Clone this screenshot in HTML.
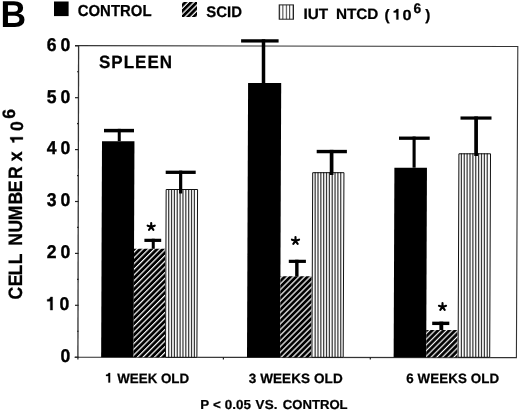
<!DOCTYPE html>
<html><head><meta charset="utf-8"><style>
html,body{margin:0;padding:0;background:#fff;}
svg{display:block;will-change:transform;}
text{font-family:"Liberation Sans",sans-serif;font-weight:bold;text-rendering:geometricPrecision;}
</style></head><body>
<svg width="520" height="412" viewBox="0 0 520 412">
<rect width="520" height="412" fill="#fff"/>
<defs><pattern id="hatch1" patternUnits="userSpaceOnUse" width="4.0305" height="4.0305" patternTransform="rotate(45)">
  <rect width="4.0305" height="4.0305" fill="#000"/>
  <rect x="2.441" y="0" width="1.2" height="4.0305" fill="#fff"/>
  <rect x="-1.590" y="0" width="1.2" height="4.0305" fill="#fff"/>
</pattern><pattern id="hatch2" patternUnits="userSpaceOnUse" width="4.0305" height="4.0305" patternTransform="rotate(45)">
  <rect width="4.0305" height="4.0305" fill="#000"/>
  <rect x="3.431" y="0" width="1.2" height="4.0305" fill="#fff"/>
  <rect x="-0.600" y="0" width="1.2" height="4.0305" fill="#fff"/>
</pattern><pattern id="hatch3" patternUnits="userSpaceOnUse" width="4.0305" height="4.0305" patternTransform="rotate(45)">
  <rect width="4.0305" height="4.0305" fill="#000"/>
  <rect x="0.602" y="0" width="1.2" height="4.0305" fill="#fff"/>
  <rect x="-3.428" y="0" width="1.2" height="4.0305" fill="#fff"/>
</pattern><pattern id="hatchL" patternUnits="userSpaceOnUse" width="4.0305" height="4.0305" patternTransform="rotate(45)">
  <rect width="4.0305" height="4.0305" fill="#000"/>
  <rect x="1.168" y="0" width="1.2" height="4.0305" fill="#fff"/>
  <rect x="-2.863" y="0" width="1.2" height="4.0305" fill="#fff"/>
</pattern>
<pattern id="vstrL" patternUnits="userSpaceOnUse" width="3.4" height="10" x="279">
  <rect width="3.4" height="10" fill="#fff"/>
  <rect x="0" y="0" width="1" height="10" fill="#333"/>
</pattern>
</defs>

<text transform="translate(0.60 26.70) scale(0.985 1.038)" font-size="36" font-family="Liberation Sans, sans-serif" font-weight="bold" >B</text>
<rect x="54" y="1.5" width="14.6" height="14.6" fill="#000"/>
<text transform="translate(77.70 16.35) scale(0.976 1.04)" font-size="15.3" font-family="Liberation Sans, sans-serif" font-weight="bold" stroke="#000" stroke-width="0.25" >CONTROL</text>
<rect x="182" y="2" width="15" height="15" fill="url(#hatchL)"/>
<text transform="translate(206.30 17.10) scale(0.975 1.0)" font-size="15.3" font-family="Liberation Sans, sans-serif" font-weight="bold" stroke="#000" stroke-width="0.25" >SCID</text>
<rect x="279.2" y="4.9" width="14.3" height="14.3" fill="url(#vstrL)" stroke="#222" stroke-width="1"/>
<text transform="translate(303.50 18.90) scale(1.0 0.98)" font-size="15.3" font-family="Liberation Sans, sans-serif" font-weight="bold" stroke="#000" stroke-width="0.25" word-spacing="3.5">IUT NTCD</text>
<text transform="translate(384.54 19.80) scale(1.0 0.99)" font-size="15.3" font-family="Liberation Sans, sans-serif" font-weight="bold" stroke="#000" stroke-width="0.25" >(</text>
<path transform="translate(392.55 19.50) scale(0.01530 -0.01469)" d="M380 0L380 710L262 710C245 640 190 585 75 580L75 478L252 478L252 0Z" fill="#000" stroke="#000" stroke-width="0.3" vector-effect="non-scaling-stroke"/>
<text transform="translate(402.55 19.50) scale(1.07 0.96)" font-size="15.3" font-family="Liberation Sans, sans-serif" font-weight="bold" stroke="#000" stroke-width="0.25" >0</text>
<text transform="translate(413.59 12.80) scale(1.0 1.0)" font-size="13.8" font-family="Liberation Sans, sans-serif" font-weight="bold" stroke="#000" stroke-width="0.25" >6</text>
<text transform="translate(425.18 19.80) scale(1.0 0.99)" font-size="15.3" font-family="Liberation Sans, sans-serif" font-weight="bold" stroke="#000" stroke-width="0.25" >)</text>
<path d="M75 45.6 L517.8 46.5 L516.4 357.6 L74.5 357.3" fill="none" stroke="#333" stroke-width="1.1"/>
<line x1="78.6" y1="45.6" x2="77.9" y2="359.4" stroke="#333" stroke-width="1.3"/>
<line x1="75" y1="357.20" x2="78.6" y2="357.20" stroke="#222" stroke-width="1.2"/>
<line x1="75" y1="305.30" x2="78.6" y2="305.30" stroke="#222" stroke-width="1.2"/>
<line x1="75" y1="253.40" x2="78.6" y2="253.40" stroke="#222" stroke-width="1.2"/>
<line x1="75" y1="201.50" x2="78.6" y2="201.50" stroke="#222" stroke-width="1.2"/>
<line x1="75" y1="149.60" x2="78.6" y2="149.60" stroke="#222" stroke-width="1.2"/>
<line x1="75" y1="97.70" x2="78.6" y2="97.70" stroke="#222" stroke-width="1.2"/>
<line x1="75" y1="45.80" x2="78.6" y2="45.80" stroke="#222" stroke-width="1.2"/>
<line x1="77" y1="331.25" x2="78.6" y2="331.25" stroke="#222" stroke-width="1.2"/>
<line x1="77" y1="279.35" x2="78.6" y2="279.35" stroke="#222" stroke-width="1.2"/>
<line x1="77" y1="227.45" x2="78.6" y2="227.45" stroke="#222" stroke-width="1.2"/>
<line x1="77" y1="175.55" x2="78.6" y2="175.55" stroke="#222" stroke-width="1.2"/>
<line x1="77" y1="123.65" x2="78.6" y2="123.65" stroke="#222" stroke-width="1.2"/>
<line x1="77" y1="71.75" x2="78.6" y2="71.75" stroke="#222" stroke-width="1.2"/>
<line x1="223.4" y1="357.3" x2="223.4" y2="359.5" stroke="#222" stroke-width="1.2"/>
<line x1="370.3" y1="357.3" x2="370.3" y2="359.5" stroke="#222" stroke-width="1.2"/>
<text transform="translate(60.60 362.00) scale(1.0 1.05)" font-size="17.6" font-family="Liberation Sans, sans-serif" font-weight="bold" stroke="#000" stroke-width="0.35">0</text>
<path transform="translate(45.88 310.10) scale(0.01760 -0.01848)" d="M380 0L380 710L262 710C245 640 190 585 75 580L75 478L252 478L252 0Z" fill="#000" stroke="#000" stroke-width="0.35" vector-effect="non-scaling-stroke"/>
<text transform="translate(59.50 310.10) scale(1.0 1.05)" font-size="17.6" font-family="Liberation Sans, sans-serif" font-weight="bold" stroke="#000" stroke-width="0.35">0</text>
<text transform="translate(46.65 258.20) scale(1.0 1.05)" font-size="17.6" font-family="Liberation Sans, sans-serif" font-weight="bold" stroke="#000" stroke-width="0.35">2</text>
<text transform="translate(60.60 258.20) scale(1.0 1.05)" font-size="17.6" font-family="Liberation Sans, sans-serif" font-weight="bold" stroke="#000" stroke-width="0.35">0</text>
<text transform="translate(46.65 206.30) scale(1.0 1.05)" font-size="17.6" font-family="Liberation Sans, sans-serif" font-weight="bold" stroke="#000" stroke-width="0.35">3</text>
<text transform="translate(60.60 206.30) scale(1.0 1.05)" font-size="17.6" font-family="Liberation Sans, sans-serif" font-weight="bold" stroke="#000" stroke-width="0.35">0</text>
<text transform="translate(46.65 154.40) scale(1.0 1.05)" font-size="17.6" font-family="Liberation Sans, sans-serif" font-weight="bold" stroke="#000" stroke-width="0.35">4</text>
<text transform="translate(60.60 154.40) scale(1.0 1.05)" font-size="17.6" font-family="Liberation Sans, sans-serif" font-weight="bold" stroke="#000" stroke-width="0.35">0</text>
<text transform="translate(46.65 102.50) scale(1.0 1.05)" font-size="17.6" font-family="Liberation Sans, sans-serif" font-weight="bold" stroke="#000" stroke-width="0.35">5</text>
<text transform="translate(60.60 102.50) scale(1.0 1.05)" font-size="17.6" font-family="Liberation Sans, sans-serif" font-weight="bold" stroke="#000" stroke-width="0.35">0</text>
<text transform="translate(46.65 50.60) scale(1.0 1.05)" font-size="17.6" font-family="Liberation Sans, sans-serif" font-weight="bold" stroke="#000" stroke-width="0.35">6</text>
<text transform="translate(60.60 50.60) scale(1.0 1.05)" font-size="17.6" font-family="Liberation Sans, sans-serif" font-weight="bold" stroke="#000" stroke-width="0.35">0</text>
<polygon points="102.01,141.2 134.46,141.2 133.60,357.3 101.15,357.3" fill="#000"/>
<polygon points="134.03,248.8 165.43,248.8 165.00,357.3 133.60,357.3" fill="url(#hatch1)"/>
<polygon points="165.67,189.0 198.07,189.0 197.40,357.3 165.00,357.3" fill="#fafafa"/>
<rect x="168.09" y="189.00" width="1.2" height="168.30" fill="#383838"/>
<rect x="170.95" y="189.00" width="1.2" height="168.30" fill="#383838"/>
<rect x="173.80" y="189.00" width="1.2" height="168.30" fill="#383838"/>
<rect x="176.65" y="189.00" width="1.2" height="168.30" fill="#383838"/>
<rect x="179.51" y="189.00" width="1.2" height="168.30" fill="#383838"/>
<rect x="182.36" y="189.00" width="1.2" height="168.30" fill="#383838"/>
<rect x="185.22" y="189.00" width="1.2" height="168.30" fill="#383838"/>
<rect x="188.07" y="189.00" width="1.2" height="168.30" fill="#383838"/>
<rect x="190.93" y="189.00" width="1.2" height="168.30" fill="#383838"/>
<rect x="193.78" y="189.00" width="1.2" height="168.30" fill="#383838"/>
<polygon points="166.17,189.5 197.57,189.5 196.90,357.3 165.50,357.3" fill="none" stroke="#111" stroke-width="1"/>
<polygon points="248.10,83.0 281.20,83.0 280.10,357.3 247.00,357.3" fill="#000"/>
<polygon points="280.42,276.3 311.77,276.3 311.45,357.3 280.10,357.3" fill="url(#hatch2)"/>
<polygon points="312.19,172.2 344.44,172.2 343.70,357.3 311.45,357.3" fill="#fafafa"/>
<rect x="314.56" y="172.20" width="1.2" height="185.10" fill="#383838"/>
<rect x="317.40" y="172.20" width="1.2" height="185.10" fill="#383838"/>
<rect x="320.24" y="172.20" width="1.2" height="185.10" fill="#383838"/>
<rect x="323.08" y="172.20" width="1.2" height="185.10" fill="#383838"/>
<rect x="325.92" y="172.20" width="1.2" height="185.10" fill="#383838"/>
<rect x="328.77" y="172.20" width="1.2" height="185.10" fill="#383838"/>
<rect x="331.61" y="172.20" width="1.2" height="185.10" fill="#383838"/>
<rect x="334.45" y="172.20" width="1.2" height="185.10" fill="#383838"/>
<rect x="337.29" y="172.20" width="1.2" height="185.10" fill="#383838"/>
<rect x="340.13" y="172.20" width="1.2" height="185.10" fill="#383838"/>
<polygon points="312.69,172.7 343.94,172.7 343.20,357.3 311.95,357.3" fill="none" stroke="#111" stroke-width="1"/>
<polygon points="394.41,167.7 426.96,167.7 426.20,357.3 393.65,357.3" fill="#000"/>
<polygon points="426.31,330.0 457.71,330.0 457.60,357.3 426.20,357.3" fill="url(#hatch3)"/>
<polygon points="458.42,153.3 491.02,153.3 490.20,357.3 457.60,357.3" fill="#fafafa"/>
<rect x="460.78" y="153.30" width="1.2" height="204.00" fill="#383838"/>
<rect x="463.65" y="153.30" width="1.2" height="204.00" fill="#383838"/>
<rect x="466.53" y="153.30" width="1.2" height="204.00" fill="#383838"/>
<rect x="469.40" y="153.30" width="1.2" height="204.00" fill="#383838"/>
<rect x="472.27" y="153.30" width="1.2" height="204.00" fill="#383838"/>
<rect x="475.14" y="153.30" width="1.2" height="204.00" fill="#383838"/>
<rect x="478.02" y="153.30" width="1.2" height="204.00" fill="#383838"/>
<rect x="480.89" y="153.30" width="1.2" height="204.00" fill="#383838"/>
<rect x="483.76" y="153.30" width="1.2" height="204.00" fill="#383838"/>
<rect x="486.64" y="153.30" width="1.2" height="204.00" fill="#383838"/>
<polygon points="458.92,153.8 490.52,153.8 489.70,357.3 458.10,357.3" fill="none" stroke="#111" stroke-width="1"/>
<rect x="104" y="128.85" width="30.00" height="3.50" fill="#000"/>
<rect x="117.75" y="128.85" width="3.00" height="12.35" fill="#000"/>
<rect x="144.4" y="238.75" width="16.80" height="3.20" fill="#000"/>
<rect x="151.75" y="238.75" width="3.00" height="10.05" fill="#000"/>
<rect x="165.7" y="170.65" width="30.00" height="3.30" fill="#000"/>
<rect x="179.05" y="170.65" width="3.20" height="22.85" fill="#000"/>
<rect x="241.1" y="39.25" width="37.50" height="3.30" fill="#000"/>
<rect x="261.75" y="39.25" width="3.50" height="43.75" fill="#000"/>
<rect x="288.8" y="259.75" width="17.10" height="3.20" fill="#000"/>
<rect x="295.15" y="259.75" width="3.40" height="16.55" fill="#000"/>
<rect x="316.7" y="149.85" width="30.20" height="3.40" fill="#000"/>
<rect x="329.75" y="149.85" width="3.70" height="25.15" fill="#000"/>
<rect x="399" y="136.55" width="30.70" height="3.30" fill="#000"/>
<rect x="412.55" y="136.55" width="3.10" height="31.15" fill="#000"/>
<rect x="432.2" y="321.65" width="17.10" height="3.40" fill="#000"/>
<rect x="439.35" y="321.65" width="3.90" height="8.35" fill="#000"/>
<rect x="460.5" y="116.45" width="31.00" height="3.20" fill="#000"/>
<rect x="474.25" y="116.45" width="3.70" height="39.55" fill="#000"/>
<path d="M151.20 226.80L151.20 223.05M151.20 226.80L154.77 225.64M151.20 226.80L153.40 229.83M151.20 226.80L149.00 229.83M151.20 226.80L147.63 225.64" stroke="#000" stroke-width="2.1" stroke-linecap="round" fill="none"/>
<path d="M295.50 240.80L295.50 237.05M295.50 240.80L299.07 239.64M295.50 240.80L297.70 243.83M295.50 240.80L293.30 243.83M295.50 240.80L291.93 239.64" stroke="#000" stroke-width="2.1" stroke-linecap="round" fill="none"/>
<path d="M442.50 306.90L442.50 303.15M442.50 306.90L446.07 305.74M442.50 306.90L444.70 309.93M442.50 306.90L440.30 309.93M442.50 306.90L438.93 305.74" stroke="#000" stroke-width="2.1" stroke-linecap="round" fill="none"/>
<text transform="translate(99.01 68.30) scale(1.0 1.046)" font-size="17" font-family="Liberation Sans, sans-serif" font-weight="bold" stroke="#000" stroke-width="0.25" letter-spacing="1">SPLEEN</text>
<path transform="translate(104.99 382.50) scale(0.01350 -0.01350)" d="M380 0L380 710L262 710C245 640 190 585 75 580L75 478L252 478L252 0Z" fill="#000" stroke="#000" stroke-width="0.25" vector-effect="non-scaling-stroke"/>
<text transform="translate(117.29 382.50) scale(0.987 1.0)" font-size="13.5" font-family="Liberation Sans, sans-serif" font-weight="bold" stroke="#000" stroke-width="0.25" >WEEK OLD</text>
<text transform="translate(248.69 382.50) scale(1.0 1.0)" font-size="13.5" font-family="Liberation Sans, sans-serif" font-weight="bold" stroke="#000" stroke-width="0.25" letter-spacing="0.1">3 WEEKS OLD</text>
<text transform="translate(406.30 382.50) scale(0.987 1.0)" font-size="13.5" font-family="Liberation Sans, sans-serif" font-weight="bold" stroke="#000" stroke-width="0.25" letter-spacing="0.1">6 WEEKS OLD</text>
<text transform="translate(200.29 409.00) scale(0.985 0.96)" font-size="13.6" font-family="Liberation Sans, sans-serif" font-weight="bold" stroke="#000" stroke-width="0.25" word-spacing="0.3">P &lt; 0.05</text>
<text transform="translate(255.60 409.00) scale(0.985 0.96)" font-size="13.6" font-family="Liberation Sans, sans-serif" font-weight="bold" stroke="#000" stroke-width="0.25" letter-spacing="0.2">VS.</text>
<text transform="translate(282.74 409.00) scale(0.965 0.96)" font-size="13.6" font-family="Liberation Sans, sans-serif" font-weight="bold" stroke="#000" stroke-width="0.25" >CONTROL</text>
<text transform="translate(22.3 300.0) rotate(-90) scale(1 1.1)" font-size="17.6" font-family="Liberation Sans, sans-serif" font-weight="bold" stroke="#000" stroke-width="0.25"><tspan x="0.58 13.72 24.62 35.72 54.32 67.54 79.82 95.42 107.82 120.92 138.78" y="0">CELLNUMBERx</tspan></text>
<text transform="translate(22.9 300.0) rotate(-90) scale(1 1.02)" font-size="17.6" font-family="Liberation Sans, sans-serif" font-weight="bold" stroke="#000" stroke-width="0.25"><tspan x="169.00" y="0">0</tspan><tspan x="181.35" y="-7.3">6</tspan></text>
<path transform="translate(22.9 300.0) rotate(-90) translate(156.18 0.00) scale(0.01760 -0.01795)" d="M380 0L380 710L262 710C245 640 190 585 75 580L75 478L252 478L252 0Z" fill="#000" stroke="#000" stroke-width="0.25" vector-effect="non-scaling-stroke"/>
</svg>
</body></html>
